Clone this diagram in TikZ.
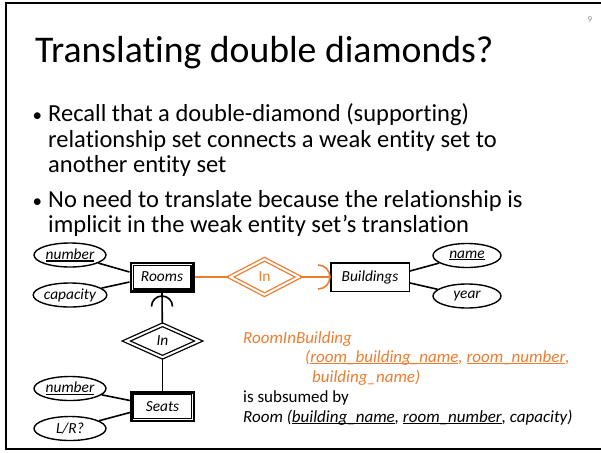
\documentclass[tikz,border=0pt]{standalone}
\usepackage{fontspec}
\setmainfont{Carlito}[Ligatures={NoCommon,NoContextual}]
\usetikzlibrary{shapes.geometric,calc}

\definecolor{accent}{RGB}{237,125,49}
\definecolor{pagenum}{RGB}{140,140,140}

% key attribute: heavy underline
\newcommand{\keyul}[1]{\leavevmode\setbox0=\hbox{#1}\rlap{\rule[-2.4pt]{\wd0}{1.2pt}}\box0}

\begin{document}
\begin{tikzpicture}[x=1pt,y=-1pt,
  txt/.style={anchor=base west, inner sep=0pt},
  bodyfont/.style={font=\fontsize{24.5}{26}\selectfont},
  dotfont/.style={font=\fontsize{19}{20}\selectfont},
  erfont/.style={font=\fontsize{15.4}{17}\selectfont\itshape},
  notefont/.style={font=\fontsize{17}{19}\selectfont\itshape},
  entity/.style={draw, line width=1.5pt, minimum width=78.5pt, minimum height=28.5pt, inner sep=0pt, erfont},
  weakentity/.style={draw, line width=2.5pt, minimum width=62.5pt, minimum height=28.5pt, inner sep=0pt, erfont},
  innerline/.style={line width=1.2pt},
  attr/.style={ellipse, draw, line width=1.4pt, minimum width=72pt, minimum height=24pt, inner sep=0pt, erfont},
  idrel/.style={diamond, draw, line width=1.3pt, double=white, double distance=2pt, inner sep=0pt, erfont},
  link/.style={line width=1.6pt},
  olink/.style={line width=1.6pt, draw=accent},
]
\useasboundingbox (0,0) rectangle (601,452);

% slide frame
\draw[line width=2.2pt] (6,3) rectangle (640,449);
\node[font=\fontsize{9}{10}\selectfont, text=pagenum] (pnum) at (590,20) {9};

% title and bullets
\node[txt, font=\fontsize{37.7}{40}\selectfont] (title) at (35,62) {Translating double diamonds?};
\node[txt, dotfont] (b1) at (32.5,121.5) {•};
\node[txt, bodyfont] (l1) at (48,121.5) {Recall that a double-diamond (supporting)};
\node[txt, bodyfont] (l2) at (48,147) {relationship set connects a weak entity set to};
\node[txt, bodyfont] (l3) at (48,172) {another entity set};
\node[txt, dotfont] (b2) at (32.5,207) {•};
\node[txt, bodyfont] (l4) at (48,207) {No need to translate because the relationship is};
\node[txt, bodyfont] (l5) at (48,232) {implicit in the weak entity set’s translation};

% entity sets
\node[weakentity] (rooms) at (162,277) {Rooms};
\node[weakentity] (seats) at (162.5,406.5) {Seats};
\node[entity] (bld) at (370,277) {Buildings};
\draw[innerline] ([shift={(3.6pt,3.6pt)}]rooms.south west) rectangle ([shift={(-3.6pt,-3.6pt)}]rooms.north east);
\draw[innerline] ([shift={(3.6pt,3.6pt)}]seats.south west) rectangle ([shift={(-3.6pt,-3.6pt)}]seats.north east);

% attributes
\node[attr] (rnum) at (70,255) {\keyul{number}};
\node[attr] (rcap) at (70,295) {capacity};
\node[attr, minimum width=68pt] (bname) at (467,255.5) {\keyul{name}};
\node[attr, minimum width=68pt] (byear) at (467,296) {year};
\node[attr] (snum) at (70,388.5) {\keyul{number}};
\node[attr] (slr) at (70,428.5) {L/R?};

% supporting relationships
\node[idrel, draw=accent, text=accent, font=\fontsize{15.4}{17}\selectfont,
  minimum width=69pt, minimum height=36pt] (inb) at (264.5,277) {In};
\node[idrel, minimum width=73pt, minimum height=33pt] (ins) at (162.5,341) {In};

% attribute links
\draw[link] (rnum) -- ([yshift=5pt]rooms.west);
\draw[link] (rcap) -- ([yshift=-5pt]rooms.west);
\draw[link] (bname) -- ([yshift=6pt]bld.east);
\draw[link] (byear) -- ([yshift=-6pt]bld.east);
\draw[link] (snum) -- ([yshift=6pt]seats.west);
\draw[link] (slr) -- ([yshift=-6pt]seats.west);

% Rooms -- In -- Buildings, rounded arrow into Buildings
\draw[olink] (rooms.east) -- (inb);
\draw[olink] (inb) -- (bld.west);
\coordinate (barc) at ($(bld.west)+(-12,0)$);
\draw[olink] (barc) ++(0,-12) arc[start angle=90, end angle=-90, radius=12pt];

% Seats -- In -- Rooms, rounded arrow into Rooms
\draw[link] (ins) -- (rooms.south);
\draw[link] (ins) -- (seats.north);
\coordinate (rarc) at ($(rooms.south)+(0,14)$);
\draw[link] (rarc) ++(-10.5,0) arc[start angle=180, end angle=0, radius=10.5pt];

% translation note
\node[txt, notefont, text=accent] (n1) at (243,343) {RoomInBuilding};
\node[txt, notefont, text=accent] (n2) at (305,362) {(\keyul{room\_building\_name}, \keyul{room\_number},};
\node[txt, notefont, text=accent] (n3) at (312,382) {building\_name)};
\node[txt, font=\fontsize{17}{19}\selectfont] (n4) at (243,402) {is subsumed by};
\node[txt, notefont] (n5) at (243,422) {Room (\keyul{building\_name}, \keyul{room\_number}, capacity)};
\end{tikzpicture}
\end{document}
